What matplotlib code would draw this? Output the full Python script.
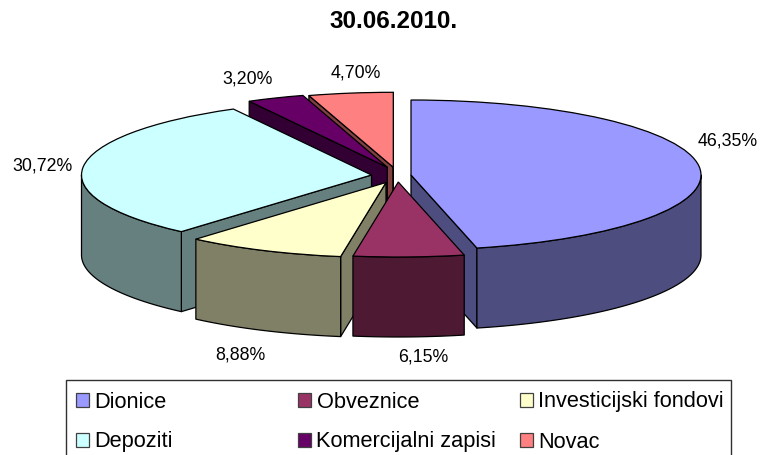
import numpy as np
import matplotlib
matplotlib.use("Agg")
import matplotlib.pyplot as plt
from matplotlib.patches import Polygon, Rectangle

title = "30.06.2010."
categories = ["Dionice", "Obveznice", "Investicijski fondovi", "Depoziti", "Komercijalni zapisi", "Novac"]
values = [46.35, 6.15, 8.88, 30.72, 3.20, 4.70]

# styles / layout (pixels in the 764x455 picture)
top_colors = ["#9999FF", "#993366", "#FFFFCC", "#CCFFFF", "#660066", "#FF8080"]
side_colors = ["#4D4D80", "#4D1933", "#808066", "#668080", "#330033", "#804040"]
apex_px = [(411, 175), (398.3, 182), (386, 182.5), (371.5, 175), (387.3, 167.2), (393.3, 167.3)]
label_px = [(727.5, 146), (423, 361.5), (240, 359), (42, 170.5), (247.5, 83), (356, 78)]
draw_order = [5, 4, 3, 2, 0, 1]
RX, RY, DEPTH_PX, CX, CY = 290.0, 75.0, 80.0, 392.0, 175.0
W, H = 764, 455
LW = 0.9

plt.rcParams["font.family"] = ["Liberation Sans", "DejaVu Sans"]
fig = plt.figure(figsize=(W / 100, H / 100), dpi=100, facecolor="white")
ax = fig.add_axes([0, 0, 1, 1])

wedges, _ = ax.pie(values, colors=top_colors, startangle=90, counterclock=False, radius=1.0,
                   wedgeprops=dict(edgecolor="black", linewidth=LW))
ax.set_aspect("auto")
ax.set_xlim(-CX / RX, (W - CX) / RX)
ax.set_ylim((CY - H) / RY, CY / RY)
depth = DEPTH_PX / RY


def rim(cx, cy, deg):
    r = np.radians(deg)
    return cx + np.cos(r), cy + np.sin(r)


for rank, i in enumerate(draw_order):
    w = wedges[i]
    cx = (apex_px[i][0] - CX) / RX
    cy = (CY - apex_px[i][1]) / RY
    w.set_center((cx, cy))
    w.set_zorder(10 + rank * 10 + 5)
    z = 10 + rank * 10
    t1, t2 = w.theta1, w.theta2
    kw = dict(facecolor=side_colors[i], edgecolor="black", linewidth=LW, joinstyle="round")
    # straight cut faces that look towards the viewer
    for t, sign in ((t2, -1), (t1, 1)):
        if sign * np.cos(np.radians(t)) > 1e-9:
            ex, ey = rim(cx, cy, t)
            ax.add_patch(Polygon([(cx, cy), (ex, ey), (ex, ey - depth), (cx, cy - depth)],
                                 zorder=z, **kw))
    # outer curved wall, front half only
    lo, hi = max(t1, -180.0), min(t2, 0.0)
    if hi > lo:
        ts = np.linspace(lo, hi, 80)
        xs, ys = rim(cx, cy, ts)
        pts = np.r_[np.c_[xs, ys], np.c_[xs[::-1], ys[::-1] - depth]]
        ax.add_patch(Polygon(pts, zorder=z + 1, **kw))

# overlay in picture pixels for labels and legend
ov = fig.add_axes([0, 0, 1, 1])
ov.set_xlim(0, W)
ov.set_ylim(H, 0)
ov.axis("off")

ov.text(394, 28, title, ha="center", va="baseline", fontsize=17.5, fontweight="bold")
for v, (lx, ly) in zip(values, label_px):
    ov.text(lx, ly, f"{v:.2f}%".replace(".", ","), ha="center", va="baseline", fontsize=12.8, color="black")

ov.add_patch(Rectangle((65.5, 380), 665.5, 90, facecolor="white", edgecolor="#303030", linewidth=1.0))
col_x = [76, 298, 520]
row_y = [400, 440]
for i, name in enumerate(categories):
    x = col_x[i % 3]
    y = row_y[i // 3]
    ov.add_patch(Rectangle((x, y - 7), 13, 14, facecolor=top_colors[i], edgecolor="#404040", linewidth=0.9))
    ov.text(x + 18.5, y + 7.5, name, ha="left", va="baseline", fontsize=15.7, color="black")

fig.savefig("out.png", dpi=100)
